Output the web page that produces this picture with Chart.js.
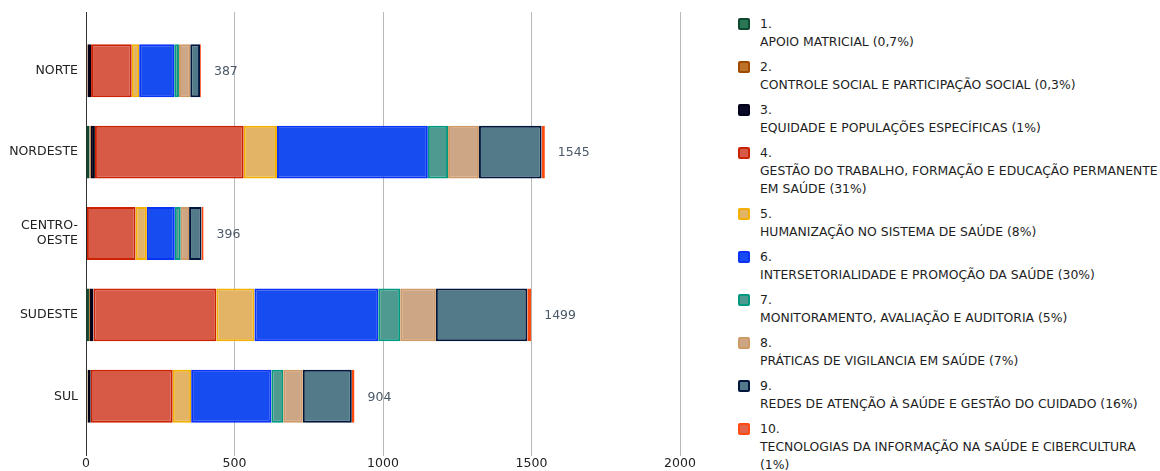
<!DOCTYPE html>
<html>
<head>
<meta charset="utf-8">
<script src="https://cdn.jsdelivr.net/npm/chart.js@4.4.0/dist/chart.umd.min.js"></script>
<style>
  body { margin: 0; background: #fff; font-family: "DejaVu Sans", Verdana, sans-serif; }
  #wrap { position: absolute; left: 0; top: 0; width: 700px; height: 471px; }
  #legend { position: absolute; left: 738px; top: 15px; width: 426px; font-size: 12.4px; color: #1e1e1e; }
  .item { position: relative; padding-left: 22px; margin-bottom: 7px; line-height: 18px; }
  .box { position: absolute; left: 0; top: 3px; width: 8px; height: 8px; border: 2px solid; border-radius: 2px; }
</style>
</head>
<body>
<div id="wrap"><canvas id="myChart"></canvas></div>
<div id="legend"></div>
<script>
// regions
const regions = ["NORTE", "NORDESTE", ["CENTRO-", "OESTE"], "SUDESTE", "SUL"];

// themes (legend text)
const themeNames = [
  "APOIO MATRICIAL (0,7%)",
  "CONTROLE SOCIAL E PARTICIPAÇÃO SOCIAL (0,3%)",
  "EQUIDADE E POPULAÇÕES ESPECÍFICAS (1%)",
  "GESTÃO DO TRABALHO, FORMAÇÃO E EDUCAÇÃO PERMANENTE EM SAÚDE (31%)",
  "HUMANIZAÇÃO NO SISTEMA DE SAÚDE (8%)",
  "INTERSETORIALIDADE E PROMOÇÃO DA SAÚDE (30%)",
  "MONITORAMENTO, AVALIAÇÃO E AUDITORIA (5%)",
  "PRÁTICAS DE VIGILANCIA EM SAÚDE (7%)",
  "REDES DE ATENÇÃO À SAÚDE E GESTÃO DO CUIDADO (16%)",
  "TECNOLOGIAS DA INFORMAÇÃO NA SAÚDE E CIBERCULTURA (1%)"
];

// values per theme, order: NORTE, NORDESTE, CENTRO-OESTE, SUDESTE, SUL
const apoio        = [2, 12, 1, 10, 4];
const controle     = [3, 4, 0, 3, 2];
const equidade     = [12, 14, 2, 12, 10];
const gestao       = [137, 501, 164, 414, 276];
const humanizacao  = [25, 112, 38, 128, 62];
const intersetor   = [118, 508, 94, 417, 270];
const monitoramento = [16, 68, 20, 74, 40];
const praticas     = [38, 104, 28, 120, 66];
const redes        = [33, 211, 42, 308, 165];
const tecnologias  = [3, 11, 7, 13, 9];

const xTicks = [0, 500, 1000, 1500, 2000];

const series = [apoio, controle, equidade, gestao, humanizacao, intersetor, monitoramento, praticas, redes, tecnologias];
const borders = ["#0b4a2c", "#a04a00", "#000018", "#cc2200", "#f2b000", "#0a33f5", "#00987e", "#d09a66", "#00163c", "#ff4a10"];
const fills   = ["#2a7656", "#bd7228", "#0a0a28", "#d65a45", "#e3b465", "#174cf0", "#4f9a90", "#cda686", "#527a88", "#e2654a"];

// html legend
const legendEl = document.getElementById("legend");
themeNames.forEach((name, i) => {
  const d = document.createElement("div");
  d.className = "item";
  d.innerHTML = '<span class="box" style="border-color:' + borders[i] + ';background:' + fills[i] + '"></span>' +
    (i + 1) + '.<br>' + name;
  legendEl.appendChild(d);
});

const totalsPlugin = {
  id: "totals",
  afterDatasetsDraw(chart) {
    const ctx = chart.ctx;
    const xs = chart.scales.x, ys = chart.scales.y;
    ctx.save();
    ctx.font = "12.5px 'DejaVu Sans'";
    ctx.fillStyle = "#4a5868";
    ctx.textBaseline = "middle";
    regions.forEach((r, i) => {
      let total = 0;
      series.forEach(s => total += s[i]);
      ctx.fillText(String(total), xs.getPixelForValue(total) + 13, ys.getPixelForValue(i) + 1);
    });
    ctx.restore();
  }
};

new Chart(document.getElementById("myChart"), {
  type: "bar",
  data: {
    labels: regions,
    datasets: series.map((s, i) => ({
      label: (i + 1) + ". " + themeNames[i],
      data: s,
      backgroundColor: fills[i],
      borderColor: borders[i],
      borderWidth: 2,
      borderSkipped: false,
      barPercentage: 0.65,
      categoryPercentage: 1
    }))
  },
  options: {
    indexAxis: "y",
    responsive: true,
    maintainAspectRatio: false,
    animation: false,
    layout: { padding: { top: 12, right: 20, left: 0, bottom: 0 } },
    plugins: { legend: { display: false }, tooltip: { enabled: false } },
    scales: {
      x: {
        stacked: true,
        min: 0, max: 2000,
        afterBuildTicks: s => { s.ticks = xTicks.map(v => ({ value: v })); },
        grid: {
          color: c => (c.tick && c.tick.value === 0 ? "#333" : "#b8b8b8"),
          tickLength: 19
        },
        border: { display: false },
        ticks: {
          color: "#222", font: { family: "DejaVu Sans", size: 12.5 }, padding: 0, maxRotation: 0,
          callback: v => String(v)
        }
      },
      x2: {
        axis: "x",
        position: "top",
        min: 0, max: 2000,
        afterBuildTicks: s => { s.ticks = xTicks.map(v => ({ value: v })); },
        grid: {
          drawOnChartArea: false,
          color: c => (c.tick && c.tick.value === 0 ? "#333" : "#b8b8b8"),
          tickLength: 18
        },
        border: { display: false },
        ticks: { display: false }
      },
      y: {
        stacked: true,
        grid: { display: false },
        border: { display: false },
        afterFit: s => { s.width = 86; },
        ticks: { color: "#222", font: { family: "DejaVu Sans", size: 12.5 }, padding: 0 }
      }
    }
  },
  plugins: [totalsPlugin]
});
</script>
</body>
</html>
